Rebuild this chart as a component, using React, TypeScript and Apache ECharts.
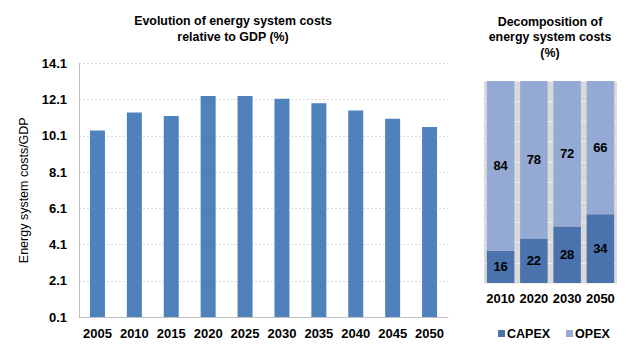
import React, { useEffect, useRef } from "react";
import * as echarts from "echarts";

const years = ["2005", "2010", "2015", "2020", "2025", "2030", "2035", "2040", "2045", "2050"];
const costsToGdp = [10.4, 11.4, 11.2, 12.3, 12.3, 12.15, 11.9, 11.5, 11.05, 10.6];

const decompYears = ["2010", "2020", "2030", "2050"];
const capex = [16, 22, 28, 34];
const opex = [84, 78, 72, 66];

const yMin = 0.1;
const yMax = 14.1;
const yStep = 2;

const FONT = '"Liberation Sans", Arial, sans-serif';

export default function App() {
  const ref = useRef<HTMLDivElement>(null);
  useEffect(() => {
    if (!ref.current) return;
    const chart = echarts.init(ref.current, null, { renderer: "svg" });
    const lbl = { fontFamily: FONT, fontWeight: "bold" as const, fontSize: 13, color: "#000" };
    chart.setOption({
      animation: false,
      backgroundColor: "#fff",
      textStyle: { fontFamily: FONT },
      graphic: [
        {
          type: "text",
          x: 233,
          y: 13,
          style: {
            text: "Evolution of energy system costs\nrelative to GDP (%)",
            align: "center",
            verticalAlign: "top",
            fontFamily: FONT,
            fontWeight: "bold",
            fontSize: 12.4,
            lineHeight: 16,
            fill: "#000",
          },
        },
        {
          type: "text",
          x: 550,
          y: 14,
          style: {
            text: "Decomposition of\nenergy system costs\n(%)",
            align: "center",
            verticalAlign: "top",
            fontFamily: FONT,
            fontWeight: "bold",
            fontSize: 12.4,
            lineHeight: 15.5,
            fill: "#000",
          },
        },
      ],
      legend: {
        data: ["CAPEX", "OPEX"],
        left: 493,
        top: 322,
        icon: "rect",
        itemWidth: 7,
        itemHeight: 7,
        itemGap: 16,
        textStyle: { ...lbl, fontSize: 12.5, padding: [0, 0, 0, -3] },
      },
      grid: [
        { left: 79, right: 188, top: 63.5, bottom: 35 },
        {
          left: 484,
          right: 19,
          top: 81,
          bottom: 69,
          show: true,
          backgroundColor: "#d9d9d9",
          borderWidth: 0,
        },
      ],
      xAxis: [
        {
          gridIndex: 0,
          type: "category",
          data: years,
          axisLine: { lineStyle: { color: "#bfbfbf", width: 1 } },
          axisTick: { show: false },
          axisLabel: { ...lbl, margin: 10, interval: 0 },
        },
        {
          gridIndex: 1,
          type: "category",
          data: decompYears,
          axisLine: { show: false },
          axisTick: { show: false },
          axisLabel: { ...lbl, margin: 9, interval: 0 },
        },
      ],
      yAxis: [
        {
          gridIndex: 0,
          type: "value",
          min: yMin,
          max: yMax,
          interval: yStep,
          name: "Energy system costs/GDP",
          nameLocation: "middle",
          nameGap: 46,
          nameTextStyle: { fontFamily: FONT, fontSize: 12.5, color: "#000" },
          axisLine: { show: true, lineStyle: { color: "#bfbfbf", width: 1 } },
          axisTick: { show: false },
          axisLabel: {
            ...lbl,
            margin: 12,
            formatter: (v: number) => v.toFixed(1),
          },
          splitLine: { lineStyle: { color: "#d9d9d9", type: [2, 2] } },
        },
        {
          gridIndex: 1,
          type: "value",
          min: 0,
          max: 100,
          interval: 10,
          axisLine: { show: false },
          axisTick: { show: false },
          axisLabel: { show: false },
          splitLine: { lineStyle: { color: "#eeeeee", width: 1 } },
        },
      ],
      series: [
        {
          type: "bar",
          xAxisIndex: 0,
          yAxisIndex: 0,
          data: costsToGdp,
          barWidth: 15,
          itemStyle: { color: "#4f81bd" },
        },
        {
          name: "CAPEX",
          type: "bar",
          stack: "d",
          xAxisIndex: 1,
          yAxisIndex: 1,
          data: capex,
          barWidth: 27.5,
          itemStyle: { color: "#4a73ae" },
          label: { show: true, position: "inside", ...lbl },
        },
        {
          name: "OPEX",
          type: "bar",
          stack: "d",
          xAxisIndex: 1,
          yAxisIndex: 1,
          data: opex,
          barWidth: 27.5,
          itemStyle: { color: "#94a9d3" },
          label: { show: true, position: "inside", ...lbl },
        },
      ],
    });
    return () => chart.dispose();
  }, []);
  return <div ref={ref} style={{ width: 636, height: 352, position: "absolute", left: 0, top: 0 }} />;
}
